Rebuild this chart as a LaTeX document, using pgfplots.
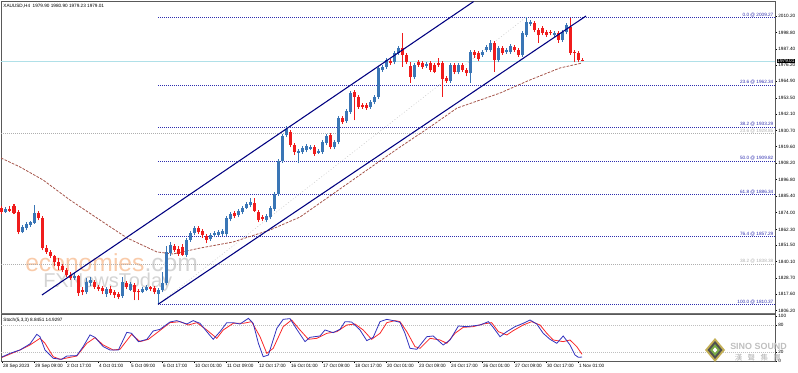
\documentclass[border=0pt]{standalone}
\usepackage{pgfplots}
\pgfplotsset{compat=1.18}
\usepackage{pgfplotstable}
\usepackage{fontspec}
\setmainfont{Liberation Sans}
\newfontfamily\cjk{Noto Sans CJK TC}
\definecolor{bull}{RGB}{58,118,182}
\definecolor{bear}{RGB}{240,28,28}
\definecolor{fibblue}{RGB}{45,45,175}
\definecolor{fibgray}{RGB}{175,175,175}
\definecolor{chan}{RGB}{0,0,128}
\definecolor{maline}{RGB}{165,85,75}
\definecolor{pline}{RGB}{176,224,232}
\definecolor{stblue}{RGB}{50,50,190}
\definecolor{stred}{RGB}{250,40,40}
\definecolor{wmorange}{RGB}{249,203,170}
\definecolor{wmgray}{RGB}{212,212,212}
\definecolor{logogold}{RGB}{196,176,86}
\definecolor{logodark}{RGB}{80,80,80}
\definecolor{logogreen}{RGB}{120,170,70}
\newcommand{\sm}{\fontsize{3.5}{4.2}\selectfont}
\pgfplotsset{candle/.style={only marks, mark=*, mark size=0pt, mark options={draw=none,fill=none}}}

\pgfplotstableread{
i o h l c
0 1877.2 1878.5 1873.0 1874.4
1 1874.4 1877.8 1873.7 1876.5
2 1876.5 1878.5 1874.4 1875.1
3 1878.5 1879.9 1873.0 1873.7
4 1874.4 1875.8 1859.1 1860.5
5 1860.5 1865.4 1859.8 1864.0
6 1863.3 1867.4 1861.9 1866.1
7 1865.4 1868.1 1864.0 1867.4
8 1866.8 1879.2 1866.1 1873.7
9 1873.7 1875.1 1868.8 1870.2
10 1870.2 1871.6 1848.0 1849.4
11 1849.4 1851.5 1845.3 1846.7
12 1846.7 1848.0 1842.5 1843.9
13 1843.9 1844.6 1836.9 1839.7
14 1839.7 1842.5 1834.2 1836.9
15 1836.9 1838.3 1832.8 1834.2
16 1834.2 1835.6 1829.3 1830.7
17 1830.7 1832.8 1827.3 1828.6
18 1828.6 1832.1 1827.3 1830.0
19 1830.0 1830.7 1816.2 1818.2
20 1820.3 1822.4 1816.8 1818.9
21 1818.9 1828.6 1817.5 1825.9
22 1825.2 1829.3 1823.1 1827.3
23 1825.9 1827.3 1821.0 1822.4
24 1822.4 1823.8 1819.6 1821.0
25 1821.7 1823.1 1817.5 1819.6
26 1817.5 1822.4 1815.5 1821.0
27 1821.0 1823.1 1816.8 1818.2
28 1818.9 1820.3 1814.8 1816.8
29 1817.5 1818.9 1814.1 1815.5
30 1816.2 1829.3 1814.8 1825.9
31 1825.2 1826.6 1821.0 1822.4
32 1820.3 1825.9 1819.6 1824.5
33 1823.8 1825.2 1813.4 1818.9
34 1819.6 1821.0 1813.4 1818.9
35 1818.9 1822.4 1818.2 1821.0
36 1820.3 1823.8 1819.6 1822.4
37 1822.4 1823.1 1819.6 1821.0
38 1821.7 1823.1 1817.5 1818.9
39 1817.5 1821.7 1810.4 1820.3
40 1820.3 1832.8 1818.9 1825.2
41 1825.2 1850.8 1823.8 1846.7
42 1846.0 1853.6 1843.9 1851.5
43 1850.8 1852.2 1846.7 1848.0
44 1848.7 1850.8 1843.9 1845.3
45 1850.1 1852.2 1843.9 1844.6
46 1844.6 1856.4 1843.2 1855.0
47 1855.0 1861.2 1853.6 1859.8
48 1859.8 1864.7 1858.4 1863.3
49 1863.3 1864.7 1859.1 1860.5
50 1861.2 1862.6 1856.4 1858.4
51 1857.7 1859.1 1852.9 1855.0
52 1855.7 1859.8 1854.3 1858.4
53 1858.4 1861.2 1857.0 1859.8
54 1858.4 1861.9 1857.7 1860.5
55 1859.1 1862.6 1857.7 1861.2
56 1859.1 1871.6 1857.7 1870.2
57 1869.5 1874.4 1868.1 1873.0
58 1873.7 1875.1 1870.2 1871.6
59 1872.3 1876.5 1870.9 1875.1
60 1874.4 1878.5 1873.0 1877.2
61 1877.2 1881.3 1876.5 1879.9
62 1879.2 1884.1 1877.8 1881.3
63 1880.6 1884.1 1874.4 1875.1
64 1874.4 1875.8 1867.4 1868.8
65 1870.9 1872.3 1868.1 1869.5
66 1868.8 1873.0 1867.4 1871.6
67 1870.9 1878.5 1869.5 1877.2
68 1876.5 1888.2 1875.1 1886.9
69 1886.9 1911.1 1885.5 1909.7
70 1909.7 1928.4 1908.3 1927.0
71 1927.7 1934.0 1926.3 1931.9
72 1929.8 1931.2 1919.4 1920.8
73 1920.8 1922.2 1913.9 1915.9
74 1915.3 1918.0 1908.3 1916.7
75 1915.9 1920.1 1914.6 1918.7
76 1917.3 1921.5 1915.9 1920.1
77 1918.0 1920.8 1917.3 1919.4
78 1919.4 1920.8 1913.2 1914.6
79 1915.3 1918.0 1914.6 1916.7
80 1915.9 1924.3 1914.6 1922.9
81 1922.2 1928.4 1920.8 1927.0
82 1927.7 1929.1 1918.0 1919.4
83 1919.4 1924.3 1918.0 1922.9
84 1922.9 1940.9 1921.5 1939.5
85 1939.5 1940.9 1935.4 1936.7
86 1937.4 1945.8 1936.1 1944.4
87 1943.7 1958.2 1942.3 1956.8
88 1957.5 1958.9 1938.1 1954.1
89 1954.1 1955.5 1945.8 1947.2
90 1948.5 1949.9 1945.8 1947.2
91 1948.5 1949.9 1945.1 1946.4
92 1947.2 1952.0 1945.8 1950.6
93 1950.6 1955.5 1949.2 1954.1
94 1954.1 1975.5 1952.7 1974.2
95 1972.8 1976.2 1971.4 1974.9
96 1974.9 1981.1 1973.5 1979.7
97 1979.0 1980.4 1976.2 1977.6
98 1978.3 1986.0 1976.9 1984.6
99 1984.6 1989.4 1983.2 1988.0
100 1988.0 1998.4 1974.9 1983.2
101 1983.2 1984.6 1976.9 1978.3
102 1975.5 1978.3 1963.8 1967.9
103 1967.9 1977.6 1966.5 1976.2
104 1978.3 1979.7 1974.9 1976.2
105 1977.6 1979.0 1973.5 1974.9
106 1975.5 1978.3 1974.2 1976.9
107 1977.6 1979.0 1971.4 1972.8
108 1976.2 1977.6 1970.7 1971.4
109 1977.6 1981.1 1974.9 1976.2
110 1977.6 1979.0 1954.1 1966.5
111 1967.2 1968.6 1963.8 1965.2
112 1965.2 1977.6 1963.8 1976.2
113 1976.2 1977.6 1970.0 1971.4
114 1971.4 1977.6 1970.0 1976.2
115 1976.2 1977.6 1971.4 1972.8
116 1972.8 1974.2 1968.6 1970.7
117 1970.7 1986.6 1963.8 1985.3
118 1985.3 1986.6 1981.1 1983.2
119 1984.6 1986.0 1979.0 1980.4
120 1983.2 1986.6 1981.8 1985.3
121 1986.6 1990.1 1985.3 1988.7
122 1986.6 1993.6 1985.3 1991.5
123 1991.5 1992.9 1971.4 1979.7
124 1979.7 1989.4 1978.3 1988.0
125 1988.0 1989.4 1983.2 1984.6
126 1985.3 1988.0 1983.9 1986.6
127 1985.3 1990.8 1983.9 1989.4
128 1988.7 1990.1 1985.3 1986.6
129 1986.6 1988.0 1981.8 1983.2
130 1983.2 1999.8 1981.8 1998.4
131 1997.0 2009.3 1995.7 2006.0
132 2004.7 2007.4 2003.3 2006.0
133 2005.4 2006.8 1999.1 2000.5
134 2000.5 2001.9 1991.5 1997.0
135 2001.9 2003.3 1997.0 1998.4
136 1999.1 2000.5 1995.7 1997.0
137 1999.1 2000.5 1997.0 1998.4
138 1997.0 1999.8 1995.7 1998.4
139 1998.4 1999.8 1991.5 1993.6
140 1993.6 2000.5 1992.2 1999.1
141 1999.1 2005.4 1997.7 2004.0
142 2002.6 2008.8 1983.2 1984.6
143 1985.3 1986.6 1978.3 1984.6
144 1984.6 1986.0 1978.3 1979.7
145 1979.9 1980.9 1978.8 1979.0
}\ohlc

\pgfplotstableread{
i v
-0.25 1911.8
4.5 1905.6
10.25 1896.6
17 1882.7
24.5 1868.8
31.25 1856.4
38.75 1846.7
42.75 1845.3
49.5 1849.4
57.75 1853.6
67 1861.9
74.5 1870.9
82 1885.5
91.25 1903.5
99.5 1919.4
107 1933.3
113.75 1946.4
124.5 1956.8
132 1965.9
139.5 1974.2
145 1977.6
}\maline

\pgfplotstableread{
i v
0 9
2 17
4.5 24.5
7 38
8.7 59.3
9.5 54
10.75 24.5
12.8 6
14.9 3.7
16.2 11
18.7 12
20.3 32
22 58
23.25 52.6
25.3 32
27 24.5
29.1 24.5
31.2 63.7
32.4 61.5
34.1 43
36.2 48
37.8 66.7
39.5 70.4
42 86.7
43.7 89.7
46.2 82.2
47.8 89.7
49.5 83.7
51.2 65.2
52.8 48.2
54.5 65.2
56.2 85.2
57.8 85.2
59.5 82.2
61.6 94.8
62.8 83.7
64.1 39.3
65.3 9.6
66.6 13.3
68.7 72.6
70.3 92.6
72 94.1
73.7 70.4
75.75 43
77 52.6
79.5 55.6
80.75 68.9
82.8 63
84.5 70.4
85.75 87.4
87.4 86.7
89.5 68.9
91.2 45.2
92.8 52.6
94.5 87.4
96.2 92.6
97.8 89.7
99.5 86
100.75 61.5
102 28.2
103.7 26
106.2 54
107.8 55.6
110.3 35.6
112 46.7
114.1 77.8
116.2 76.3
119.5 80
121.6 87.4
122.8 74.8
124.5 54
126.2 65.2
128.25 76.3
130.3 83.7
132 91.1
133.7 82.2
135.3 61.5
137 48.2
138.7 39.3
140.3 55.6
142 35.6
143.25 13.3
144.1 8.2
145 8.85
}\stmain

\pgfplotstableread{
i v
0 8
4.5 24.5
7 35.6
9.5 50.4
10.75 39.3
12.8 9.6
14.5 3.7
18.7 11.1
21.2 39.3
23.25 51.9
25.3 35.6
27.8 24.5
29.5 26
32.4 59.3
34.5 43
36.6 48.2
39.1 65.2
42 85.2
44.5 87.4
46.6 80
48.7 85.2
51.2 68.9
53.7 50.4
55.3 68.9
57.8 83.7
60.3 83.7
62.4 87.4
64.5 54
66.2 17
67.8 28.2
70.3 76.3
72.4 91.1
74.5 68.9
76.6 48.2
78.7 50.4
81.2 61.5
83.7 65.2
86.2 80
88.25 82.2
90.3 68.9
92.4 48.2
94.5 61.5
96.2 85.2
98.25 89.7
99.5 87.4
101.2 65.2
103.25 31.9
104.5 28.2
107 50.4
109.5 46.7
111.2 39.3
113.25 61.5
115.3 74.8
117.8 76.3
120.3 82.2
122.4 85.2
124.1 65.2
126.2 57.8
127.8 67.4
130.3 80
132.4 87.4
134.5 80
136.2 61.5
137.8 46.7
140.3 43
142 46.7
143.7 31.9
145 14.93
}\stsig

\begin{document}
\begin{tikzpicture}
% watermarks (behind the chart)
\node[anchor=base west, inner sep=0pt, font=\fontsize{18.5}{20}\selectfont] at (18.75pt,75.75pt) {\color{wmorange}economies\color{wmgray}.com};
\node[anchor=base west, inner sep=0pt, font=\fontsize{15}{16}\selectfont, text=wmgray] at (32.25pt,63.75pt) {FXNewsToday};

\begin{axis}[
  at={(0.75pt,277.875pt)}, anchor=north west,
  scale only axis, width=580.5pt, height=233.625pt,
  xmin=-0.25, xmax=193.25, ymin=1804.4, ymax=2020.25,
  clip=false,
  axis line style={draw=black!65, line width=0.6pt},
  xtick=\empty,
  ytick={2010.2,1998.8,1987.4,1976.2,1964.9,1953.5,1942.1,1930.7,1919.6,1908.2,1896.8,1885.4,1874.0,1862.3,1851.5,1840.1,1828.7,1817.6,1806.2},
  yticklabels={2010.20,1998.80,1987.40,1976.20,1964.90,1953.50,1942.10,1930.70,1919.60,1908.20,1896.80,1885.40,1874.00,1862.30,1851.50,1840.10,1828.70,1817.60,1806.20},
  ytick pos=right, yticklabel pos=right,
  tick align=outside, major tick length=1.5pt,
  tick style={black, line width=0.4pt},
  yticklabel style={font=\sm, inner xsep=0.8pt},
]
% gray fib set
\addplot[fibgray, line width=0.5pt, dash pattern=on 0.75pt off 0.75pt] coordinates {(-0.25,1928.85) (193.25,1928.85)};
\addplot[fibgray, line width=0.5pt, dash pattern=on 0.75pt off 0.75pt] coordinates {(-0.25,1838.38) (193.25,1838.38)};
% blue fib set
\addplot[fibblue, line width=0.5pt, dash pattern=on 0.75pt off 0.75pt] coordinates {(39,2009.27) (193.25,2009.27)};
\addplot[fibblue, line width=0.5pt, dash pattern=on 0.75pt off 0.75pt] coordinates {(39,1962.33) (193.25,1962.33)};
\addplot[fibblue, line width=0.5pt, dash pattern=on 0.75pt off 0.75pt] coordinates {(39,1933.29) (193.25,1933.29)};
\addplot[fibblue, line width=0.5pt, dash pattern=on 0.75pt off 0.75pt] coordinates {(39,1909.82) (193.25,1909.82)};
\addplot[fibblue, line width=0.5pt, dash pattern=on 0.75pt off 0.75pt] coordinates {(39,1886.34) (193.25,1886.34)};
\addplot[fibblue, line width=0.5pt, dash pattern=on 0.75pt off 0.75pt] coordinates {(39,1857.29) (193.25,1857.29)};
\addplot[fibblue, line width=0.5pt, dash pattern=on 0.75pt off 0.75pt] coordinates {(39,1810.37) (193.25,1810.37)};
\addplot[black!20, line width=0.4pt, dash pattern=on 0.75pt off 1.5pt] coordinates {(39,1810.37) (131,2009.27)};
% current price line
\addplot[pline, line width=0.6pt] coordinates {(-0.25,1979.01) (193.25,1979.01)};
% moving average
\addplot[maline, line width=0.6pt, dash pattern=on 2pt off 1pt] table[x=i,y=v] {\maline};
% wicks
\addplot[candle, restrict expr to domain={\thisrow{c}-\thisrow{o}}{0:1000},
  error bars/.cd, y dir=plus, y explicit, error mark=none, error bar style={draw=bull, line width=0.75pt}]
  table[x=i, y=l, y error plus expr=\thisrow{h}-\thisrow{l}] {\ohlc};
\addplot[candle, restrict expr to domain={\thisrow{c}-\thisrow{o}}{-1000:0},
  error bars/.cd, y dir=plus, y explicit, error mark=none, error bar style={draw=bear, line width=0.75pt}]
  table[x=i, y=l, y error plus expr=\thisrow{h}-\thisrow{l}] {\ohlc};
% bodies
\addplot[candle, restrict expr to domain={\thisrow{c}-\thisrow{o}}{0:1000},
  error bars/.cd, y dir=plus, y explicit, error mark=none, error bar style={draw=bull, line width=2.25pt}]
  table[x=i, y=o, y error plus expr={max(\thisrow{c}-\thisrow{o},0.6)}] {\ohlc};
\addplot[candle, restrict expr to domain={\thisrow{c}-\thisrow{o}}{-1000:0},
  error bars/.cd, y dir=plus, y explicit, error mark=none, error bar style={draw=bear, line width=2.25pt}]
  table[x=i, y=c, y error plus expr={max(\thisrow{o}-\thisrow{c},0.6)}] {\ohlc};
% channel
\addplot[chan, line width=0.8pt] coordinates {(10,1816.9) (117.9,2020.2)};
\addplot[chan, line width=0.8pt] coordinates {(39,1810.4) (146,2010.2)};
% fib labels
\begin{scope}[every node/.style={anchor=south east, font=\sm, inner sep=0.3pt}]
\node[text=fibblue] at (axis cs:193,2009.27) {0.0 @ 2009.27};
\node[text=fibblue] at (axis cs:193,1962.33) {23.6 @ 1962.34};
\node[text=fibblue] at (axis cs:193,1933.29) {38.2 @ 1933.29};
\node[text=fibgray, anchor=north east] at (axis cs:193,1932.6) {23.6 @ 1928.85};
\node[text=fibblue] at (axis cs:193,1909.82) {50.0 @ 1909.82};
\node[text=fibblue] at (axis cs:193,1886.34) {61.8 @ 1886.34};
\node[text=fibblue] at (axis cs:193,1857.29) {76.4 @ 1857.29};
\node[text=fibgray] at (axis cs:193,1838.38) {38.2 @ 1838.38};
\node[text=fibblue] at (axis cs:193,1810.37) {100.0 @ 1810.37};
\end{scope}
\node[anchor=west, fill=black, text=white, font=\sm, inner sep=0.6pt] at (axis cs:193.6,1979.01) {1979.01};
\node[anchor=north west, font=\sm, inner sep=0pt] at ([xshift=1.6pt,yshift=-1.6pt]rel axis cs:0,1) {XAUUSD,H4 \ 1979.90 1980.90 1979.23 1979.01};
\end{axis}

% separator
\fill[black!55] (0.75pt,43.5pt) rectangle (581.25pt,44.6pt);

\begin{axis}[
  at={(0.75pt,43.125pt)}, anchor=north west,
  scale only axis, width=580.5pt, height=34.875pt,
  xmin=-0.25, xmax=193.25, ymin=0, ymax=103.3,
  clip=false,
  axis line style={draw=black!65, line width=0.6pt},
  xtick={0,8,16,24,32,40,48,56,64,72,80,88,96,104,112,120,128,136,144},
  xticklabels={28 Sep 2023,29 Sep 09:00,2 Oct 17:00,4 Oct 01:00,5 Oct 09:00,6 Oct 17:00,10 Oct 01:00,11 Oct 09:00,12 Oct 17:00,16 Oct 01:00,17 Oct 09:00,18 Oct 17:00,20 Oct 01:00,23 Oct 09:00,24 Oct 17:00,26 Oct 01:00,27 Oct 09:00,30 Oct 17:00,1 Nov 01:00},
  xtick pos=bottom,
  xticklabel style={anchor=north west, font=\sm, inner xsep=0.6pt, inner ysep=0.8pt},
  ytick={0,20,80,100}, yticklabels={0,20,80,100},
  ytick pos=right, yticklabel pos=right,
  tick align=outside, major tick length=1.5pt,
  tick style={black, line width=0.4pt},
  yticklabel style={font=\sm, inner xsep=0.8pt},
]
\addplot[black!25, line width=0.4pt, dash pattern=on 0.75pt off 0.75pt] coordinates {(-0.25,80) (193.25,80)};
\addplot[black!25, line width=0.4pt, dash pattern=on 0.75pt off 0.75pt] coordinates {(-0.25,20) (193.25,20)};
\addplot[stred, line width=0.6pt] table[x=i,y=v] {\stsig};
\addplot[stblue, line width=0.6pt] table[x=i,y=v] {\stmain};
\node[anchor=north west, font=\sm, inner sep=0pt] at ([xshift=1.6pt,yshift=-2.2pt]rel axis cs:0,1) {Stoch(5,3,3) 8.8451 14.9297};
\end{axis}

% SINO SOUND logo
\begin{scope}[shift={(536.25pt,16.5pt)}]
\fill[logogold] (0,9pt) -- (7.5pt,0) -- (0,-9pt) -- (-7.5pt,0) -- cycle;
\fill[logodark] (0,6.8pt) -- (5.6pt,0) -- (0,-6.8pt) -- (-5.6pt,0) -- cycle;
\fill[logogreen] (0,4.4pt) -- (3.7pt,0) -- (0,-4.4pt) -- (-3.7pt,0) -- cycle;
\fill[white] (0,2pt) -- (1.7pt,0) -- (0,-2pt) -- (-1.7pt,0) -- cycle;
\end{scope}
\node[anchor=base west, inner sep=0pt, font=\fontsize{6.7}{7}\selectfont\bfseries, text=black!25] at (547.5pt,16.8pt) {SINO SOUND};
\node[anchor=base west, inner sep=0pt, font=\cjk\fontsize{5.6}{6}\selectfont, text=black!30] at (551pt,8.6pt) {漢\hspace{4pt}聲\hspace{4pt}集\hspace{4pt}團};

\pgfresetboundingbox
\path (0,0) rectangle (598.5pt,279pt);
\end{tikzpicture}
\end{document}
